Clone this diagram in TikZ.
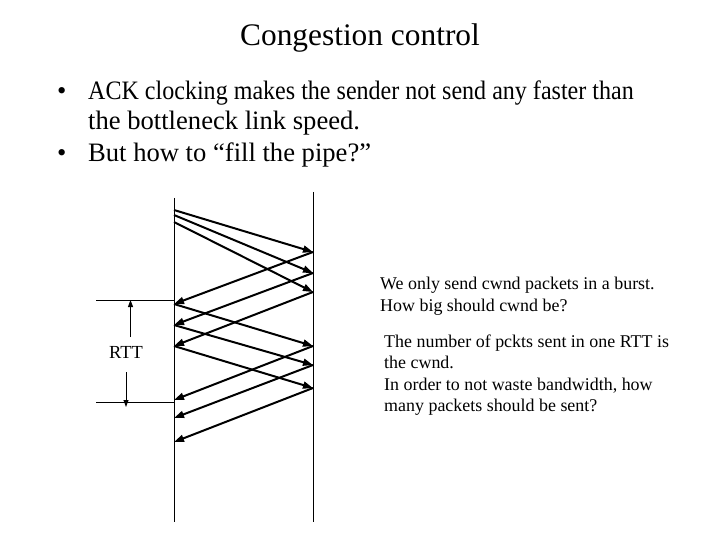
\documentclass[tikz,border=0pt]{standalone}
\usepackage{fontspec}
\setmainfont{Liberation Serif}
\usetikzlibrary{arrows.meta}
\begin{document}
\begin{tikzpicture}[x=1bp,y=-1bp,
  txt/.style={inner sep=0pt,anchor=base west},
  big/.style={font=\fontsize{26.7}{28.5}\selectfont},
  small/.style={font=\fontsize{18}{21}\selectfont},
  pkt/.style={line width=2bp,-{Triangle[length=10bp,width=7bp]}},
  thin/.style={line width=0.9bp},
  rttarrow/.style={line width=0.9bp,-{Triangle[length=7bp,width=5bp]}}]
\useasboundingbox (0,0) rectangle (720,540);
% title and bullets
\node[inner sep=0pt,anchor=base,font=\fontsize{31.5}{36}\selectfont] (title) at (360,46) {Congestion control};
\node[txt,big] (b1) at (57,100) {\textbullet};
\node[txt,big] (t1a) at (88,100) {\scalebox{0.904}[1]{ACK clocking makes the sender not send any faster than}};
\node[txt,big] (t1b) at (88,130) {the bottleneck link speed.};
\node[txt,big] (b2) at (57,162) {\textbullet};
\node[txt,big] (t2) at (88,162) {But how to “fill the pipe?”};
% time lines
\coordinate (Ltop) at (174,198);
\coordinate (Lbot) at (174,522);
\coordinate (Rtop) at (313,192);
\coordinate (Rbot) at (313,522);
\draw[thin] (Ltop) -- (Lbot);
\draw[thin] (Rtop) -- (Rbot);
% event points
\coordinate (L1) at (174,210);
\coordinate (L2) at (174,215);
\coordinate (L3) at (174,222);
\coordinate (L4) at (174,304);
\coordinate (L5) at (174,325);
\coordinate (L6) at (174,346);
\coordinate (L7) at (174,400);
\coordinate (L8) at (174,418);
\coordinate (L9) at (174,442);
\coordinate (R1) at (313,252);
\coordinate (R2) at (313,273);
\coordinate (R3) at (313,292);
\coordinate (R4) at (313,346);
\coordinate (R5) at (313,365);
\coordinate (R6) at (313,388);
% data packets
\draw[pkt] (L1) -- (R1);
\draw[pkt] (L2) -- (R2);
\draw[pkt] (L3) -- (R3);
\draw[pkt] (L4) -- (R4);
\draw[pkt] (L5) -- (R5);
\draw[pkt] (L6) -- (R6);
% acks
\draw[pkt] (R1) -- (L4);
\draw[pkt] (R2) -- (L5);
\draw[pkt] (R3) -- (L6);
\draw[pkt] (R4) -- (L7);
\draw[pkt] (R5) -- (L8);
\draw[pkt] (R6) -- (L9);
% RTT marker
\coordinate (Ta) at (96,300);
\coordinate (Tb) at (96,402);
\coordinate (Tc) at (174,300);
\coordinate (Td) at (174,402);
\draw[thin] (Ta) -- (Tc);
\draw[thin] (Tb) -- (Td);
\node[inner sep=0pt,anchor=base,font=\fontsize{18.5}{20}\selectfont] (rtt) at (126,358) {RTT};
\coordinate (ua) at (130.5,337);
\coordinate (ub) at (130.5,300);
\coordinate (da) at (126,372);
\coordinate (db) at (126,407);
\draw[rttarrow] (ua) -- (ub);
\draw[rttarrow] (da) -- (db);
% notes
\node[txt,small] (n1a) at (380,289) {We only send cwnd packets in a burst.};
\node[txt,small] (n1b) at (380,311) {How big should cwnd be?};
\node[txt,small] (n2a) at (384,347) {The number of pckts sent in one RTT is};
\node[txt,small] (n2b) at (384,368.5) {the cwnd.};
\node[txt,small] (n2c) at (384,390) {In order to not waste bandwidth, how};
\node[txt,small] (n2d) at (384,411) {many packets should be sent?};
\end{tikzpicture}
\end{document}
